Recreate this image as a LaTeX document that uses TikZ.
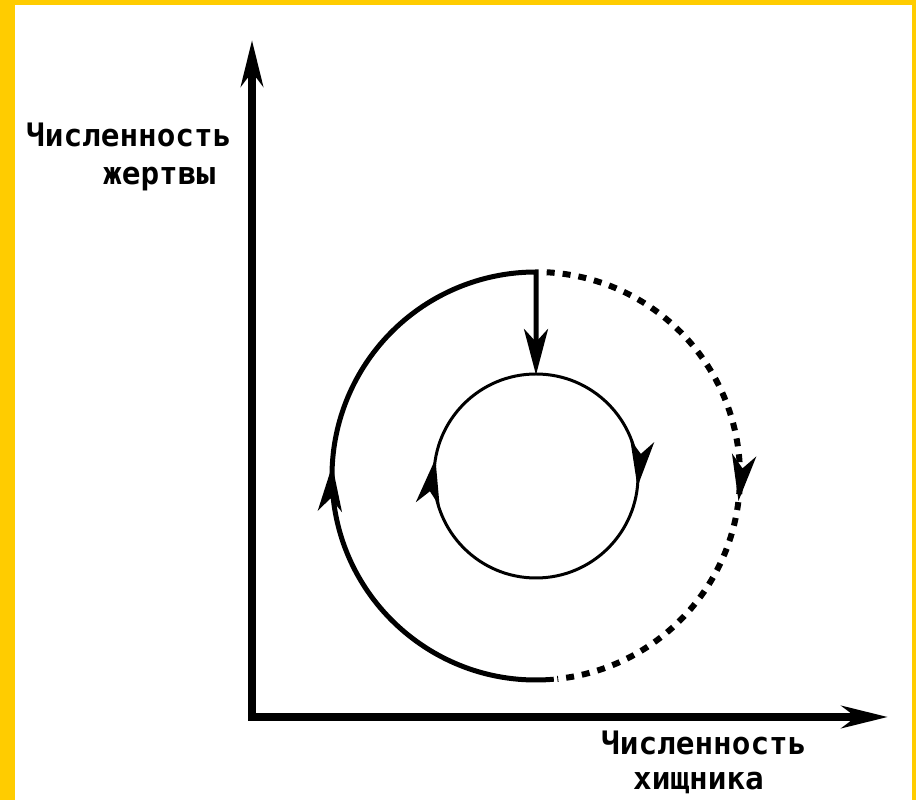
\documentclass[tikz,border=0pt]{standalone}
\usepackage{fontspec}
\newfontfamily\lblfont{DejaVu Sans Mono}
\usetikzlibrary{arrows.meta,decorations.markings}
\definecolor{ybg}{HTML}{FFCC00}
\tikzset{
  bigtip/.tip={Stealth[length=46pt,width=22pt,inset=14pt]},
  circtip/.tip={Stealth[length=46pt,width=24pt,inset=13pt]},
  axisline/.style={line width=8pt,line join=miter},
  outerline/.style={line width=5pt},
  dashline/.style={line width=6pt,dash pattern=on 8pt off 8pt},
  innerline/.style={line width=3pt},
  lbl/.style={inner sep=0pt,font=\lblfont\bfseries\fontsize{31}{31}\selectfont},
}
\begin{document}
\begin{tikzpicture}[x=1pt,y=1pt]
\fill[ybg] (0,0) rectangle (916,800);
\fill[white] (15,0) rectangle (912,795);
\useasboundingbox (0,0) rectangle (916,800);

% axes
\coordinate (O) at (252,83);
\coordinate (ytip) at (252,760);
\coordinate (xtip) at (888,83);
\draw[axisline,{bigtip}-{bigtip}] (ytip) -- (O) -- (xtip);

% circles
\coordinate (C) at (536,324);
\coordinate (itop) at (536,425);

% outer solid arc + drop to inner circle
\draw[outerline,-{circtip},
  postaction={decorate,decoration={markings,
    mark=at position 349pt with {\arrow{circtip}}}}]
  (C) ++(275:204) arc[start angle=275,end angle=90,radius=204] coordinate (otop)
  -- (itop);

% outer dashed arc
\draw[dashline,
  postaction={decorate,decoration={markings,
    mark=at position 335pt with {\arrow{circtip}}}}]
  (C) ++(87:204) arc[start angle=87,end angle=-84,radius=204];

% inner circle
\draw[innerline,
  postaction={decorate,decoration={markings,
    mark=at position 171pt with {\arrow{circtip}},
    mark=at position 498pt with {\arrow{circtip}}}}]
  (C) ++(90:102) arc[start angle=90,end angle=-270,radius=102];

% labels
\node[lbl,anchor=base west] (ylab1) at (26,653) {Численность};
\node[lbl,anchor=base west] (ylab2) at (103,615) {жертвы};
\node[lbl,anchor=base west] (xlab1) at (601,45) {Численность};
\node[lbl,anchor=base west] (xlab2) at (633,10) {хищника};
\end{tikzpicture}
\end{document}
